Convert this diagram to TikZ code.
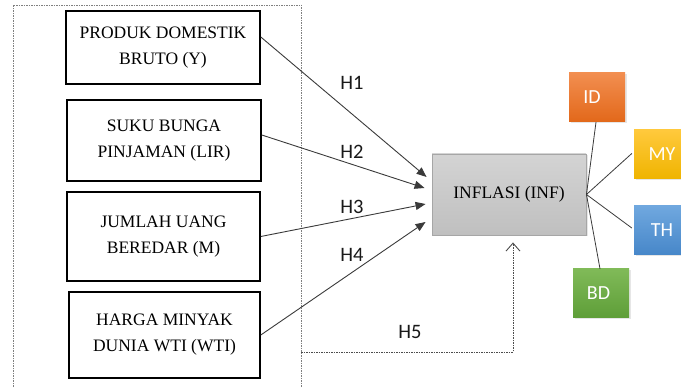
\documentclass[tikz,border=0pt]{standalone}
\usepackage{fontspec}
\setmainfont{Liberation Serif}
\newfontfamily\labelfont{Carlito}
\usetikzlibrary{arrows.meta,calc,shadows}
\definecolor{linkgray}{HTML}{3A3A3A}
\definecolor{framegray}{HTML}{7F7F7F}
\definecolor{infborder}{HTML}{A6A6A6}
\definecolor{idtop}{HTML}{F28E50}\definecolor{idbot}{HTML}{E2681A}
\definecolor{mytop}{HTML}{FFC93C}\definecolor{mybot}{HTML}{EFB400}
\definecolor{thtop}{HTML}{70A8DF}\definecolor{thbot}{HTML}{4787C9}
\definecolor{bdtop}{HTML}{80BA58}\definecolor{bdbot}{HTML}{5E9E38}
\tikzset{
  varbox/.style={draw=black, line width=1.6pt, align=center, text=black,
    font=\fontsize{17.5}{26}\selectfont},
  infbox/.style={draw=infborder, line width=0.9pt, top color=black!17, bottom color=black!25,
    shading=axis, text=black, font=\fontsize{17.5}{26}\selectfont,
    drop shadow={opacity=0.2, shadow xshift=1.5pt, shadow yshift=-1.5pt}},
  country/.style={minimum width=56, minimum height=49, text=white,
    font=\labelfont\fontsize{20}{22}\selectfont,
    drop shadow={opacity=0.2, shadow xshift=1.5pt, shadow yshift=-1.5pt}},
  link/.style={draw=linkgray, line width=0.9pt, -{Triangle[length=10pt,width=8pt]}},
  tie/.style={draw=linkgray, line width=0.8pt},
  hlabel/.style={font=\labelfont\fontsize{20.5}{22}\selectfont, text=black!90},
  frame/.style={draw=framegray, line width=0.8pt, dash pattern=on 1.5pt off 1pt},
  moderator/.style={draw=black!70, line width=0.9pt, dash pattern=on 1.5pt off 1pt,
    -{Straight Barb[length=8pt,width=14pt]}}
}
\begin{document}
\begin{tikzpicture}[x=1pt,y=-1pt]
\useasboundingbox (0,0) rectangle (681,387);
\clip (0,0) rectangle (681,387);

% dashed frame around the independent variables (open at the bottom)
\draw[frame] (13,392) -- (13,5) -- (301,5) -- (301,392);

% independent variables
\node[varbox, minimum width=194, minimum height=73] (gdp) at (163,47.5) {PRODUK DOMESTIK\\BRUTO (Y)};
\node[varbox, minimum width=194, minimum height=81] (lir) at (164,140.5) {SUKU BUNGA\\PINJAMAN (LIR)};
\node[varbox, minimum width=193, minimum height=89] (money) at (163.5,236.5) {JUMLAH UANG\\BEREDAR (M)};
\node[varbox, minimum width=191, minimum height=86] (wti) at (164.5,335) {HARGA MINYAK\\DUNIA WTI (WTI)};

% dependent variable
\node[infbox, minimum width=154, minimum height=81] (inf) at (509,194.5) {INFLASI (INF)};

% countries
\node[country, top color=idtop, bottom color=idbot] (id) at (597,97.5) {ID\hspace*{10pt}};
\node[country, top color=mytop, bottom color=mybot] (my) at (662,154.5) {MY};
\node[country, top color=thtop, bottom color=thbot] (th) at (662,230) {TH};
\node[country, top color=bdtop, bottom color=bdbot] (bd) at (601,293.5) {BD\hspace*{5pt}};

% hypotheses
\draw[link] ($(gdp.east)+(0,-10.5)$) -- ($(inf.west)+(-5,-17.5)$);
\draw[link] ($(lir.east)+(0,-5.5)$) -- ($(inf.west)+(-7,-6.5)$);
\draw[link] (money.east) -- ($(inf.west)+(-6,9.5)$);
\draw[link] (wti.east) -- ($(inf.west)+(-6,27.5)$);

\node[hlabel] (h1) at (352,83) {H1};
\node[hlabel] (h2) at (352,152) {H2};
\node[hlabel] (h3) at (352,207) {H3};
\node[hlabel] (h4) at (352,255) {H4};
\node[hlabel] (h5) at (410,332) {H5};

% joint effect from the whole frame
\coordinate (fork) at (301,352);
\draw[moderator] (fork) -| ($(inf.south)+(4,7)$);

% links to the countries
\draw[tie] (inf.east) -- ($(id.south)+(-1,0)$);
\draw[tie] (inf.east) -- ($(my.west)+(-2,-1)$);
\draw[tie] (inf.east) -- ($(th.west)+(-2,-2)$);
\draw[tie] (inf.east) -- ($(bd.north)+(-1,0)$);
\end{tikzpicture}
\end{document}
